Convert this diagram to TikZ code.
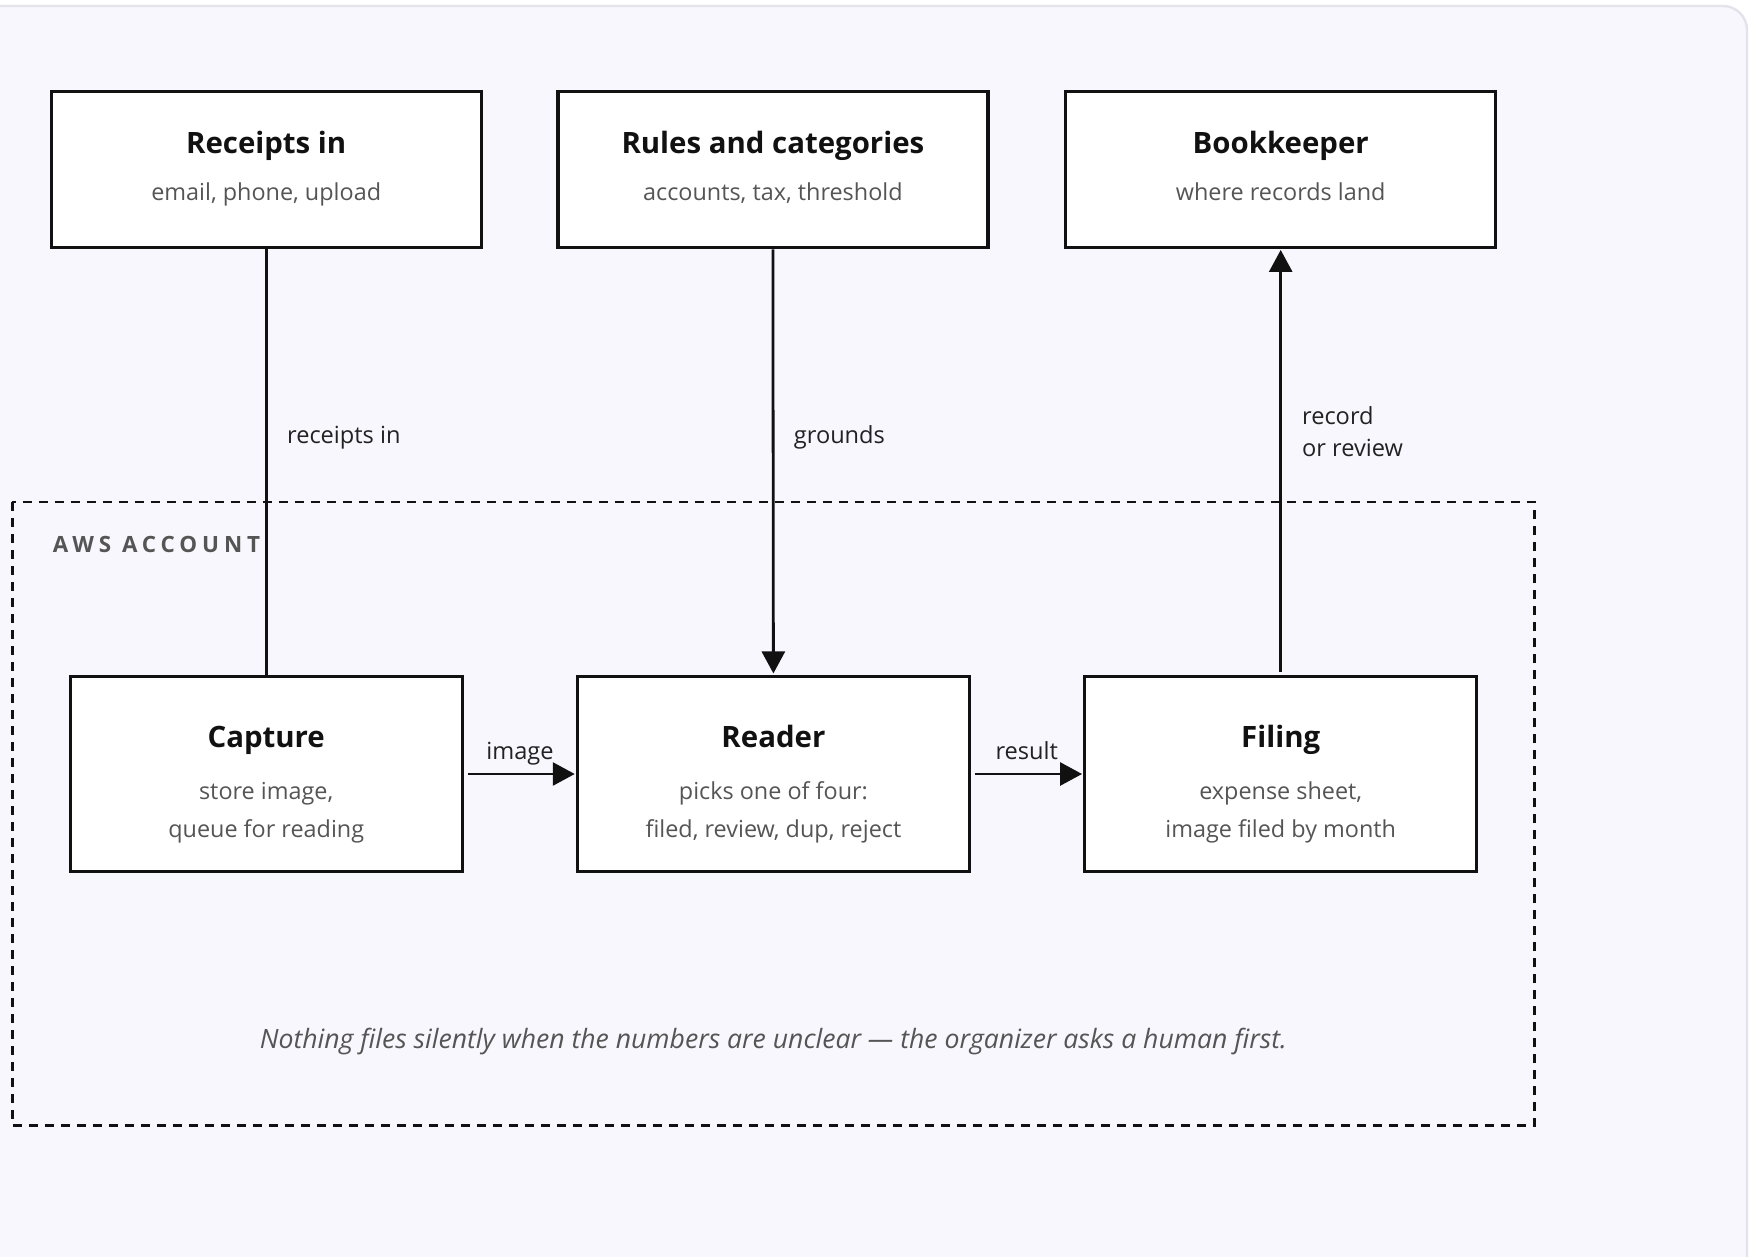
\documentclass[tikz,border=0pt]{standalone}
\usepackage{fontspec}
\setmainfont{Open Sans}
\usetikzlibrary{arrows.meta,calc}
\definecolor{cardbg}{HTML}{F7F7FD}
\definecolor{cardline}{HTML}{E3E3EC}
\definecolor{ink}{HTML}{111111}
\definecolor{subink}{HTML}{555555}
\definecolor{labink}{HTML}{222222}
\tikzset{
  stagebox/.style={draw=ink, line width=1.65pt, fill=white, inner sep=0pt},
  topbox/.style={stagebox, minimum width=215pt, minimum height=78pt},
  lowbox/.style={stagebox, minimum width=196pt, minimum height=97.7pt},
  boxtitle/.style={font=\fontsize{14.7}{18}\selectfont\bfseries, text=ink, inner sep=0pt, anchor=base},
  boxsub/.style={font=\fontsize{11.7}{14}\selectfont, text=subink, inner sep=0pt, anchor=base},
  edgelabel/.style={font=\fontsize{11.8}{14}\selectfont, text=labink, inner sep=0pt, anchor=base},
  conn/.style={draw=ink, line width=1.4pt},
  tip/.style={-{Triangle[length=11pt,width=11.5pt]}},
  zone/.style={draw=ink, line width=1.25pt, dash pattern=on 4.5pt off 3.5pt}
}
\begin{document}
\begin{tikzpicture}[x=0.5pt, y=-0.5pt]
\useasboundingbox (0,0) rectangle (1750,1257);
\fill[white] (0,0) rectangle (1750,1257);
% card behind the diagram
\begin{scope}
\clip (0,0) rectangle (1750,1257);
\draw[cardline, line width=1.2pt, fill=cardbg, rounded corners=12pt]
  (-30,1290) -- (-30,6) -- (1747,6) -- (1747,1290);
\end{scope}

% account boundary
\draw[zone] (12.3,502) rectangle (1534.6,1125.5);
\node[anchor=base west, inner sep=0pt, text=subink,
  font=\fontsize{11.2}{13}\selectfont\bfseries\addfontfeatures{LetterSpace=22}]
  (aws) at (52.5,552.7) {AWS ACCOUNT};

% top row
\node[topbox] (receipts) at (266.2,169.7) {};
\node[topbox] (rules) at (772.9,169.7) {};
\node[topbox] (bookkeeper) at (1280.7,169.7) {};
\node[boxtitle] (receipts-t) at ($(receipts)+(0,-15.7)$) {Receipts in};
\node[boxsub] (receipts-s) at ($(receipts)+(0,31.3)$) {email, phone, upload};
\node[boxtitle] (rules-t) at ($(rules)+(0,-15.7)$) {Rules and categories};
\node[boxsub] (rules-s) at ($(rules)+(0,31.3)$) {accounts, tax, threshold};
\node[boxtitle] (bookkeeper-t) at ($(bookkeeper)+(0,-15.7)$) {Bookkeeper};
\node[boxsub] (bookkeeper-s) at ($(bookkeeper)+(0,31.3)$) {where records land};

% bottom row
\node[lowbox] (capture) at (266.2,774) {};
\node[lowbox] (reader) at (773.4,774) {};
\node[lowbox] (filing) at (1280.7,774) {};
\node[boxtitle] (capture-t) at ($(capture)+(0,-26.3)$) {Capture};
\node[boxsub] (capture-a) at ($(capture)+(0,25)$) {store image,};
\node[boxsub] (capture-b) at ($(capture)+(0,63.7)$) {queue for reading};
\node[boxtitle] (reader-t) at ($(reader)+(0,-26.3)$) {Reader};
\node[boxsub] (reader-a) at ($(reader)+(0,25)$) {picks one of four:};
\node[boxsub] (reader-b) at ($(reader)+(0,63.7)$) {filed, review, dup, reject};
\node[boxtitle] (filing-t) at ($(filing)+(0,-26.3)$) {Filing};
\node[boxsub] (filing-a) at ($(filing)+(0,25)$) {expense sheet,};
\node[boxsub] (filing-b) at ($(filing)+(0,63.7)$) {image filed by month};

% connectors
\draw[conn] (receipts.south) -- (capture.north);
\draw[conn, tip, shorten >=0.6pt] (rules.south) -- (reader.north);
\draw[conn, tip, shorten <=1.5pt, shorten >=0.3pt] (filing.north) -- (bookkeeper.south);
\draw[conn, tip, shorten <=2pt, shorten >=0.5pt] (capture.east) -- (reader.west);
\draw[conn, tip, shorten <=2pt, shorten >=0.5pt] (reader.east) -- (filing.west);

% connector labels
\node[edgelabel, anchor=base west] (lab-receipts) at (286.7,443.3) {receipts in};
\node[edgelabel, anchor=base west] (lab-grounds) at (793.5,443.3) {grounds};
\node[edgelabel, anchor=base west] (lab-record) at (1301.7,424) {record};
\node[edgelabel, anchor=base west] (lab-review) at (1301.7,456.7) {or review};
\node[edgelabel] (lab-image) at (520,759.3) {image};
\node[edgelabel] (lab-result) at (1026.8,759.3) {result};

% footnote
\node[font=\fontsize{13.3}{16}\selectfont\itshape, text=subink, inner sep=0pt, anchor=base] (note)
  at (773.4,1048) {Nothing files silently when the numbers are unclear — the organizer asks a human first.};
\end{tikzpicture}
\end{document}
